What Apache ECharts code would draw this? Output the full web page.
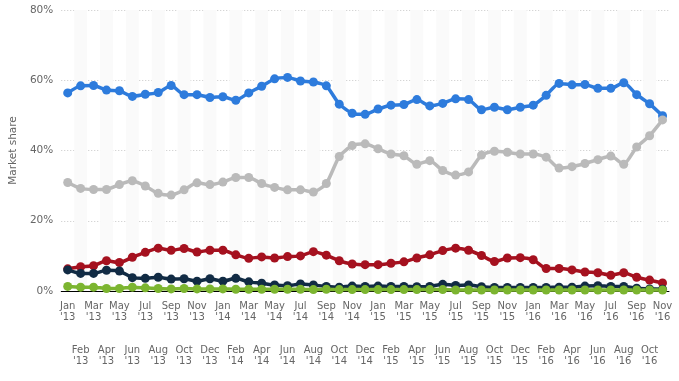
<!DOCTYPE html>
<html>
<head>
<meta charset="utf-8">
<script src="https://cdn.jsdelivr.net/npm/echarts@6/dist/echarts.min.js"></script>
<style>html,body{margin:0;padding:0;background:#fff}#c{width:679px;height:381px}</style>
</head>
<body>
<div id="c"></div>
<script>
var categories = [
"Jan '13","Feb '13","Mar '13","Apr '13","May '13","Jun '13","Jul '13","Aug '13","Sep '13","Oct '13","Nov '13","Dec '13",
"Jan '14","Feb '14","Mar '14","Apr '14","May '14","Jun '14","Jul '14","Aug '14","Sep '14","Oct '14","Nov '14","Dec '14",
"Jan '15","Feb '15","Mar '15","Apr '15","May '15","Jun '15","Jul '15","Aug '15","Sep '15","Oct '15","Nov '15","Dec '15",
"Jan '16","Feb '16","Mar '16","Apr '16","May '16","Jun '16","Jul '16","Aug '16","Sep '16","Oct '16","Nov '16"];
var blueSeries = [56.4,58.4,58.5,57.2,57.0,55.4,56.0,56.5,58.5,55.9,55.9,55.1,
55.3,54.3,56.4,58.3,60.4,60.8,59.8,59.5,58.4,53.2,50.6,50.3,
51.8,52.9,53.1,54.5,52.7,53.4,54.7,54.5,51.6,52.3,51.6,52.3,
52.9,55.7,59.1,58.7,58.8,57.7,57.7,59.3,55.9,53.3,49.9];
var graySeries = [30.9,29.2,28.9,28.9,30.3,31.4,29.9,27.8,27.3,28.8,30.8,30.3,
31.0,32.3,32.3,30.6,29.5,28.8,28.8,28.2,30.6,38.3,41.4,41.9,
40.5,39.0,38.5,36.1,37.1,34.3,33.0,33.9,38.7,39.8,39.5,39.0,
39.0,38.1,35.0,35.4,36.3,37.4,38.4,36.1,41.0,44.2,48.7];
var redSeries = [6.3,6.9,7.2,8.6,8.1,9.6,11.0,12.2,11.6,12.1,11.1,11.6,
11.6,10.3,9.3,9.7,9.4,9.8,10.0,11.2,10.2,8.6,7.7,7.5,
7.5,7.9,8.3,9.4,10.3,11.5,12.2,11.6,10.1,8.4,9.4,9.5,
8.9,6.4,6.4,6.0,5.4,5.2,4.5,5.2,3.9,3.1,2.3];
var navySeries = [6.0,5.0,5.0,5.9,5.7,3.8,3.6,3.9,3.4,3.5,2.8,3.5,
2.8,3.6,2.6,2.2,1.7,1.5,2.0,1.7,1.3,1.1,1.4,1.3,
1.4,1.3,1.3,1.2,1.3,1.9,1.6,1.7,1.2,1.0,1.0,1.0,
1.0,1.0,1.1,1.1,1.4,1.5,1.3,1.3,0.8,0.6,0.5];
var greenSeries = [1.3,1.1,1.1,0.7,0.7,1.1,0.9,0.7,0.6,0.7,0.6,0.6,
0.6,0.5,0.5,0.5,0.5,0.5,0.5,0.4,0.5,0.4,0.4,0.4,
0.4,0.4,0.4,0.4,0.4,0.4,0.3,0.3,0.3,0.3,0.3,0.3,
0.3,0.3,0.3,0.3,0.3,0.3,0.3,0.3,0.3,0.3,0.3];
var yTicks = [0, 20, 40, 60, 80];

var chart = echarts.init(document.getElementById('c'), null, {renderer: 'canvas'});
function mk(name, data, color) {
  return {
    name: name, type: 'line', data: data, smooth: 0.2,
    symbol: 'circle', symbolSize: 9, showSymbol: true,
    lineStyle: {color: color, width: 3.5},
    itemStyle: {color: color},
    animation: false
  };
}
chart.setOption({
  animation: false,
  textStyle: {fontFamily: 'DejaVu Sans'},
  grid: {left: 60, right: 10, top: 10, bottom: 90, containLabel: false},
  xAxis: {
    type: 'category', data: categories, boundaryGap: true,
    axisLine: {show: true, lineStyle: {color: '#000', width: 1}},
    axisTick: {show: false},
    axisLabel: {
      interval: 0, color: '#666', fontSize: 10, lineHeight: 11, margin: 10,
      formatter: function (v, i) {
        var s = v.replace(' ', '\n');
        return (i % 2) ? '\n\n\n\n' + s : s;
      }
    },
    splitLine: {show: false},
    splitArea: {show: true, areaStyle: {color: ['rgba(255,255,255,0)', '#fafafa']}}
  },
  yAxis: {
    type: 'value', min: yTicks[0], max: yTicks[yTicks.length - 1], interval: 20,
    name: 'Market share', nameLocation: 'middle', nameRotate: 90, nameGap: 36,
    nameTextStyle: {color: '#666', fontSize: 10.5},
    axisLine: {show: false}, axisTick: {show: false},
    axisLabel: {color: '#666', fontSize: 10.5, margin: 8, formatter: '{value}%'},
    splitLine: {show: true, lineStyle: {color: '#c8c8c8', type: [1, 2], width: 1}}
  },
  series: [
    mk('Series A', blueSeries, '#2d7bdc'),
    mk('Series B', graySeries, '#bababa'),
    mk('Series C', redSeries, '#a5111f'),
    mk('Series D', navySeries, '#112b44'),
    mk('Series E', greenSeries, '#7cb530')
  ]
});
</script>
</body>
</html>
